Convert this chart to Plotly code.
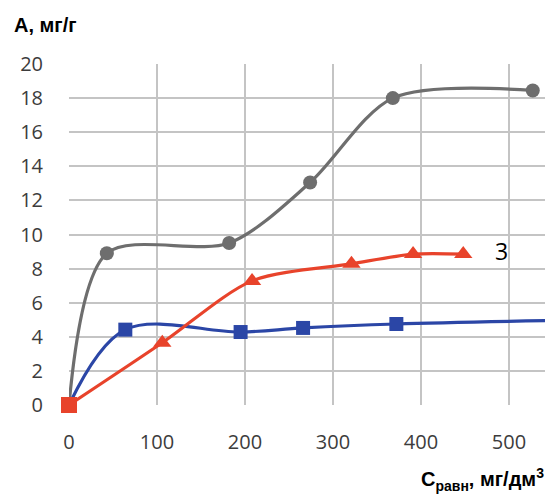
import plotly.graph_objects as go

# Series 1 (gray, circles)
gray_x = [0, 43, 182, 274, 368, 527]
gray_y = [0, 8.9, 9.5, 13.05, 18.0, 18.45]

# Series 2 (blue, squares)
blue_x = [0, 64, 195, 266, 372, 600]
blue_y = [0, 4.42, 4.28, 4.52, 4.75, 5.0]

# Series 3 (red, triangles)
red_x = [0, 106, 208, 321, 391, 448]
red_y = [0, 3.65, 7.28, 8.28, 8.85, 8.85]

x_ticks = [0, 100, 200, 300, 400, 500]
y_ticks = list(range(0, 21, 2))

series_label = "3"
y_title = "А, мг/г"
x_title = "С<sub>равн</sub>, мг/дм<sup>3</sup>"

# page body has an 8px default margin; work in figure pixels
OFF = 8
W, H = 553 - OFF, 500 - OFF
ml, mr, mt, mb = 69 - OFF, 0, 64 - OFF, H - (405 - OFF)
pw, ph = W - ml - mr, H - mt - mb


def px_to_paper(px, py):
    return (px - OFF - ml) / pw, (H - mb - (py - OFF)) / ph


fig = go.Figure()

fig.add_trace(go.Scatter(
    x=gray_x, y=gray_y, mode="lines+markers",
    line=dict(color="#6e6e6e", width=3.2, shape="spline", smoothing=0.85),
    marker=dict(symbol="circle", size=14, color="#6e6e6e"),
    cliponaxis=False, showlegend=False,
))
fig.add_trace(go.Scatter(
    x=blue_x, y=blue_y, mode="lines+markers",
    line=dict(color="#2b46a6", width=3.2, shape="spline", smoothing=1),
    marker=dict(symbol="square", size=14, color="#2b46a6"),
    cliponaxis=False, showlegend=False,
))
fig.add_trace(go.Scatter(
    x=red_x, y=red_y, mode="lines+markers",
    line=dict(color="#e8432b", width=3.2, shape="spline", smoothing=0.8),
    marker=dict(symbol=["square"] + ["triangle-up"] * (len(red_x) - 1),
                size=16, color="#e8432b"),
    cliponaxis=False, showlegend=False,
))

fig.add_annotation(x=492, y=9.05, xref="x", yref="y", text=series_label,
                   showarrow=False, font=dict(family="Open Sans", size=23, color="#000000"))

tx, ty = px_to_paper(12, 25)
fig.add_annotation(x=tx, y=ty, xref="paper", yref="paper", text=f"<b>{y_title}</b>",
                   showarrow=False, xanchor="left", yanchor="middle",
                   font=dict(family="Liberation Sans", size=20, color="#000000"))
bx, by = px_to_paper(546, 479)
fig.add_annotation(x=bx, y=by, xref="paper", yref="paper", text=f"<b>{x_title}</b>",
                   showarrow=False, xanchor="right", yanchor="middle",
                   font=dict(family="Liberation Sans", size=20, color="#000000"))

fig.update_layout(
    width=W, height=H,
    margin=dict(l=ml, r=mr, t=mt, b=mb, pad=0),
    paper_bgcolor="white", plot_bgcolor="white",
    font=dict(family="Open Sans", color="#404040"),
)
fig.update_xaxes(
    range=[0, 550], tickvals=x_ticks, showgrid=True, gridcolor="#c4c4c4", gridwidth=2,
    zeroline=False, showline=False, automargin=False,
    ticks="outside", ticklen=19, tickcolor="rgba(0,0,0,0)",
    tickfont=dict(family="Open Sans", size=20, color="#3c3c3c"),
)
fig.update_yaxes(
    range=[0, 20], tickvals=y_ticks, showgrid=True, gridcolor="#c4c4c4", gridwidth=2,
    zeroline=False, showline=False, automargin=False,
    ticks="outside", ticklen=21, tickcolor="rgba(0,0,0,0)",
    tickfont=dict(family="Open Sans", size=20, color="#3c3c3c"),
)

fig.write_html("out.html")
